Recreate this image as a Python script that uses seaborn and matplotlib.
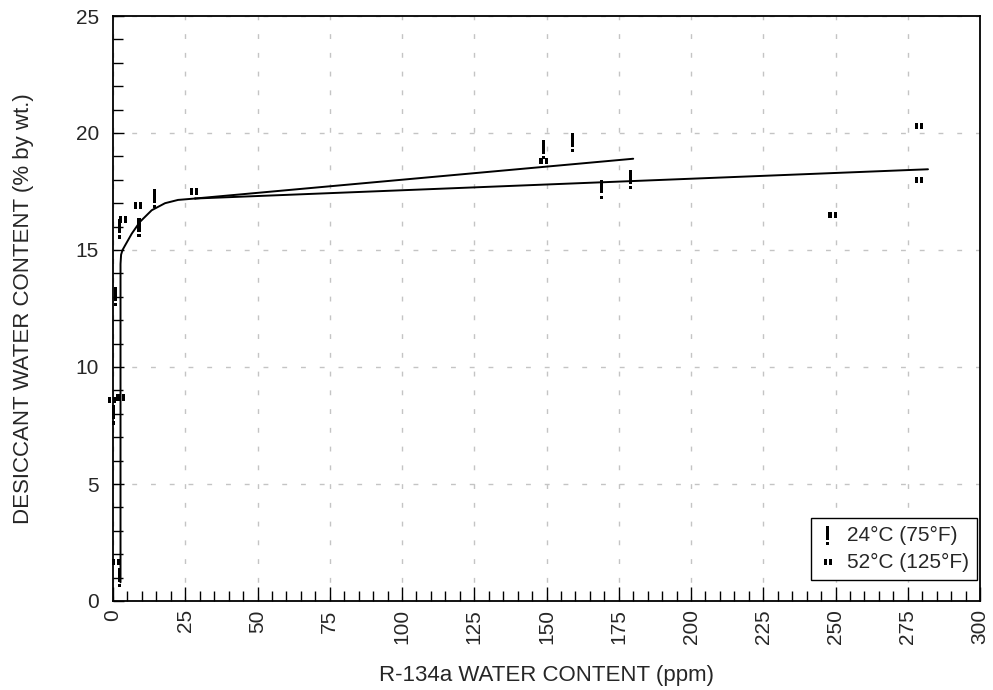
import matplotlib
matplotlib.use("Agg")
import matplotlib.pyplot as plt
import seaborn as sns
import pandas as pd
from matplotlib.path import Path
from matplotlib.ticker import MultipleLocator

# ---- data ----
t24_x = [2.2, 0.1, 0.9, 2.2, 9.0, 14.2, 149.0, 159.0, 169.0, 179.0]
t24_y = [1.0, 7.95, 13.0, 15.9, 15.95, 17.2, 19.3, 19.6, 17.6, 18.0]

t52_x = [1.0, -0.3, 2.6, 3.5, 8.7, 28.0, 149.0, 249.0, 279.0, 279.0]
t52_y = [1.67, 8.6, 8.7, 16.3, 16.9, 17.5, 18.8, 16.5, 20.3, 18.0]

curve_x = [2.6, 2.6, 2.8, 3.3, 4.2, 6.5, 9.3, 13.4, 18.0, 22.5, 28.4]
curve_y = [0.8, 14.4, 14.8, 15.0, 15.2, 15.7, 16.2, 16.7, 17.0, 17.14, 17.2]

fit24_x = [28.4, 180.0]
fit24_y = [17.2, 18.9]

fit52_x = [28.4, 282.0]
fit52_y = [17.2, 18.45]

x_ticks = list(range(0, 301, 25))
y_ticks = list(range(0, 26, 5))

label24 = "24°C (75°F)"
label52 = "52°C (125°F)"
xlabel = "R-134a WATER CONTENT (ppm)"
ylabel = "DESICCANT WATER CONTENT (% by wt.)"


# ---- glyph-like marker shapes ----
def rects_path(rects):
    verts, codes = [], []
    for (x0, y0, x1, y1) in rects:
        verts += [(x0, y0), (x1, y0), (x1, y1), (x0, y1), (x0, y0)]
        codes += [Path.MOVETO, Path.LINETO, Path.LINETO, Path.LINETO, Path.CLOSEPOLY]
    return Path(verts, codes)


bang_marker = rects_path([(-0.08, -0.22, 0.08, 0.5), (-0.08, -0.5, 0.08, -0.34)])
quote_marker = rects_path([(-0.5, -0.38, -0.12, 0.38), (0.12, -0.38, 0.5, 0.38)])

# ---- style ----
sns.set_theme(style="white")
plt.rcParams["font.family"] = ["Liberation Sans", "DejaVu Sans"]

fig = plt.figure(figsize=(9.93, 6.90), dpi=100)
ax = fig.add_axes([113 / 993, 1 - 601 / 690, (980 - 113) / 993, (601 - 16) / 690])

df24 = pd.DataFrame({"x": t24_x, "y": t24_y})
df52 = pd.DataFrame({"x": t52_x, "y": t52_y})
dfc = pd.DataFrame({"x": curve_x, "y": curve_y})
dfa = pd.DataFrame({"x": fit24_x, "y": fit24_y})
dfb = pd.DataFrame({"x": fit52_x, "y": fit52_y})

for d in (dfc, dfa, dfb):
    sns.lineplot(data=d, x="x", y="y", ax=ax, sort=False, estimator=None,
                 color="black", linewidth=1.4, legend=False)

sns.scatterplot(data=df24, x="x", y="y", ax=ax, marker=bang_marker,
                s=190, color="black", edgecolor="none", linewidth=0,
                label=label24, clip_on=False, zorder=5)
sns.scatterplot(data=df52, x="x", y="y", ax=ax, marker=quote_marker,
                s=36, color="black", edgecolor="none", linewidth=0,
                label=label52, clip_on=False, zorder=5)

ax.set_xlim(0, 300)
ax.set_ylim(0, 25)
ax.set_xticks(x_ticks)
ax.set_yticks(y_ticks)
ax.xaxis.set_minor_locator(MultipleLocator(5))
ax.yaxis.set_minor_locator(MultipleLocator(1))
ax.tick_params(axis="x", which="major", direction="in", length=10, width=1,
               color="black", labelsize=15, rotation=90, pad=6,
               bottom=True, top=False)
ax.tick_params(axis="x", which="minor", direction="in", length=7, width=1,
               color="black", bottom=True, top=False)
ax.tick_params(axis="y", which="major", direction="in", length=8, width=1,
               color="black", labelsize=15, pad=10, left=True, right=False)
ax.tick_params(axis="y", which="minor", direction="in", length=7, width=1,
               color="black", left=True, right=False)

ax.grid(True, which="major", color="#c4c4c4", linestyle=(0, (3.5, 10)),
        linewidth=1)
for sp in ax.spines.values():
    sp.set_visible(True)
    sp.set_color("black")
    sp.set_linewidth(1.3)

ax.set_xlabel(xlabel, fontsize=16, labelpad=15)
ax.set_ylabel(ylabel, fontsize=16, labelpad=30)

leg = ax.legend(loc="lower right", bbox_to_anchor=(0.9965, 0.036),
                fontsize=15, frameon=True, fancybox=False,
                edgecolor="black", framealpha=1, borderpad=0.4,
                handletextpad=0.5, handlelength=0.8, labelspacing=0.35,
                borderaxespad=0.0, markerscale=1.0)
leg.get_frame().set_linewidth(1.0)

fig.savefig("out.png", dpi=100)
